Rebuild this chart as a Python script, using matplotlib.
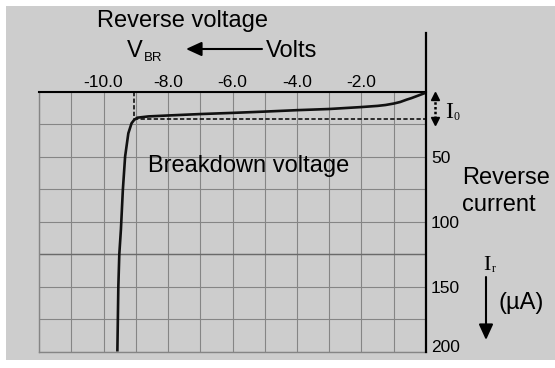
import numpy as np
import matplotlib
matplotlib.use("Agg")
import matplotlib.pyplot as plt
from matplotlib.patches import Rectangle
from matplotlib.lines import Line2D

# ---- data ----
voltage = [0.0, -0.15, -0.3, -0.45, -0.6, -0.8, -1.0, -1.25, -1.5, -2.0, -3.0, -4.0,
           -5.0, -6.0, -7.0, -8.0, -8.6, -8.95, -9.05, -9.13, -9.23, -9.33, -9.40,
           -9.46, -9.51, -9.54, -9.57]
current = [0.5, 1.9, 3.3, 4.7, 5.9, 7.7, 8.9, 10.0, 10.7, 11.6, 13.1, 14.0,
           15.1, 16.1, 17.0, 18.1, 18.8, 19.8, 21.5, 24.1, 31.8, 49.8, 75.5,
           106.0, 125.0, 150.0, 200.0]
v_breakdown = -9.05
i_zero = 20.8
x_ticks = [-10, -8, -6, -4, -2]
x_tick_labels = ["-10.0", "-8.0", "-6.0", "-4.0", "-2.0"]
y_ticks = [50, 100, 150, 200]
y_tick_labels = ["50", "100", "150", "200"]

W, H = 555, 368
SANS = "Liberation Sans"
SERIF = "Liberation Serif"
GRAY_BG = "#cdcdcd"
GRID = "#858585"

fig = plt.figure(figsize=(W / 100, H / 100), dpi=100)
fig.patch.set_facecolor("white")

def fx(x):
    return x / W

def fy(y):
    return 1 - y / H

bg = Rectangle((fx(6), fy(360)), fx(555) - fx(6), fy(6) - fy(360),
               transform=fig.transFigure, facecolor=GRAY_BG,
               edgecolor="none", zorder=-10)
fig.add_artist(bg)

ax = fig.add_axes([fx(39), fy(351.5), fx(426) - fx(39), fy(92) - fy(351.5)])
ax.set_zorder(1)
ax.set_facecolor("none")
ax.set_xlim(-12, 0)
ax.set_ylim(200, 0)

ax.set_xticks(np.arange(-12, 1, 1), minor=True)
ax.set_yticks(np.arange(0, 201, 25), minor=True)
ax.set_xticks(x_ticks)
ax.set_xticklabels(x_tick_labels)
ax.set_yticks(y_ticks)
ax.set_yticklabels(y_tick_labels)
ax.xaxis.tick_top()
ax.yaxis.tick_right()
ax.tick_params(which="both", length=0)
ax.tick_params(axis="x", pad=1.5, labelsize=12.5)
ax.tick_params(axis="y", pad=3.6, labelsize=12.5)
for lab in ax.get_xticklabels() + ax.get_yticklabels():
    lab.set_fontfamily(SANS)
ax.get_yticklabels()[-1].set_va("baseline")

ax.grid(which="both", color=GRID, linewidth=0.8)
ax.axhline(125, color="#6a6a6a", linewidth=1.0, zorder=1)
ax.set_axisbelow(True)

for side in ["left", "bottom"]:
    ax.spines[side].set_color(GRID)
    ax.spines[side].set_linewidth(1.0)
ax.spines["top"].set_color("black")
ax.spines["top"].set_linewidth(1.5)
ax.spines["right"].set_visible(False)

# vertical axis line extended upward
fig.add_artist(Line2D([fx(426), fx(426)], [fy(33), fy(352)], color="black",
                      linewidth=1.6, transform=fig.transFigure, zorder=5))

# dashed guide lines
ax.plot([v_breakdown, v_breakdown], [0, i_zero], color="black", lw=1.1,
        ls=(0, (2.8, 1.5)), zorder=3)
ax.plot([v_breakdown, 0], [i_zero, i_zero], color="black", lw=1.1,
        ls=(0, (2.8, 1.5)), zorder=3)

# curve
ax.plot(voltage, current, color="#111111", lw=1.9, zorder=4,
        solid_joinstyle="round", solid_capstyle="butt")

# texts
def txt(x, y, s, size=17, family=SANS, **kw):
    fig.text(fx(x), fy(y), s, fontsize=size, family=family, ha="left",
             va="baseline", color="black", zorder=6, **kw)

txt(97, 26.7, "Reverse voltage")
txt(127, 56.7, "V")
txt(143.5, 60.7, "BR", size=9.5)
txt(266, 56.7, "Volts")
txt(148, 172, "Breakdown voltage")
txt(462, 184, "Reverse")
txt(462, 210.7, "current")
txt(498, 309, "(µA)")
txt(445, 118.3, "I", size=17, family=SERIF)
txt(453, 120.5, "0", size=8.5, family=SERIF)
txt(483, 270, "I", size=16, family=SERIF)
txt(492, 272, "r", size=8.5, family=SERIF)

# arrows
arrow_style = "-|>,head_length=0.94,head_width=0.43"
ax.annotate("", xy=(186, H - 49), xytext=(262, H - 49), xycoords="figure pixels",
            textcoords="figure pixels", annotation_clip=False,
            arrowprops=dict(arrowstyle=arrow_style, color="black", lw=1.5,
                            mutation_scale=10, shrinkA=0, shrinkB=0))
ax.annotate("", xy=(486, H - 340), xytext=(486, H - 277), xycoords="figure pixels",
            textcoords="figure pixels", annotation_clip=False,
            arrowprops=dict(arrowstyle=arrow_style, color="black", lw=1.5,
                            mutation_scale=10, shrinkA=0, shrinkB=0))

# dotted double arrow for I0
fig.add_artist(Line2D([fx(435), fx(435)], [fy(97), fy(119)], color="black",
                      linewidth=1.8, linestyle=(0, (1, 0.9)),
                      transform=fig.transFigure, zorder=6))
fig.add_artist(Line2D([fx(435)], [fy(95.5)], marker="^", markersize=6,
                      color="black", transform=fig.transFigure, zorder=6))
fig.add_artist(Line2D([fx(435)], [fy(121)], marker="v", markersize=6,
                      color="black", transform=fig.transFigure, zorder=6))

fig.savefig("out.png", dpi=100, facecolor="white")
